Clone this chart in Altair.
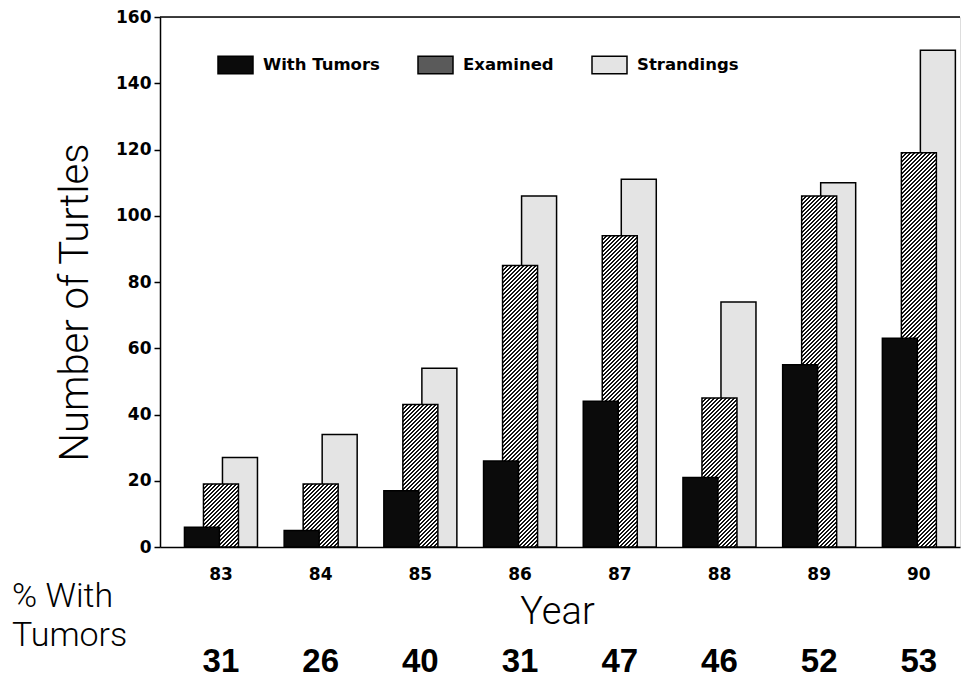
import altair as alt
import pandas as pd

# ---- data ----
years = ["83", "84", "85", "86", "87", "88", "89", "90"]
with_tumors = [6, 5, 17, 26, 44, 21, 55, 63]
examined = [19, 19, 43, 85, 94, 45, 106, 119]
strandings = [27, 34, 54, 106, 111, 74, 110, 150]
pct_with_tumors = [31, 26, 40, 31, 47, 46, 52, 53]
series = ["With Tumors", "Examined", "Strandings"]
series_colors = ["#0b0b0b", "#5a5a5a", "#e4e4e4"]
side_label = ["% With", "Tumors"]

W, H = 800, 530
Y_MAX = 160
BAR_W = 35  # pixel width of a bar (offset band is 19px, so bars overlap)

rows = []
for i, yr in enumerate(years):
    rows.append({"Year": yr, "Series": "Strandings", "Count": strandings[i]})
    rows.append({"Year": yr, "Series": "Examined", "Count": examined[i]})
    rows.append({"Year": yr, "Series": "With Tumors", "Count": with_tumors[i]})
df = pd.DataFrame(rows)
pct_df = pd.DataFrame({"Year": years, "Pct": [str(p) for p in pct_with_tumors]})

BOLD = "DejaVu Sans"
LIGHT = "Roboto"

x_enc = alt.X(
    "Year:N",
    sort=years,
    scale=alt.Scale(domain=years, paddingInner=0.428, paddingOuter=0.226, align=0.72),
    axis=alt.Axis(
        title="Year", labelAngle=0, ticks=False, labelPadding=19,
        labelFont=BOLD, labelFontWeight="bold", labelFontSize=17, labelColor="black",
        titleFont=LIGHT, titleFontWeight=300, titleFontSize=38, titleColor="black",
        titleX=397, titleY=76, titleBaseline="alphabetic",
        domainColor="black", domainWidth=1.5,
    ),
)
xoff_enc = alt.XOffset(
    "Series:N", scale=alt.Scale(domain=series, paddingInner=0, paddingOuter=0)
)
y_enc = alt.Y(
    "Count:Q",
    stack=None,
    scale=alt.Scale(domain=[0, Y_MAX], nice=False),
    axis=alt.Axis(
        title="Number of Turtles", values=list(range(0, 161, 20)), grid=False,
        tickSize=6, tickColor="black", tickWidth=1.5, labelPadding=3,
        labelFont=BOLD, labelFontWeight="bold", labelFontSize=17, labelColor="black",
        titleFont=LIGHT, titleFontWeight=300, titleFontSize=40, titleColor="black",
        titleAngle=270, titleX=-73, titleY=285, titleBaseline="alphabetic",
        domainColor="black", domainWidth=1.5,
    ),
)
color_enc = alt.Color(
    "Series:N",
    scale=alt.Scale(domain=series, range=series_colors),
    legend=alt.Legend(
        title=None, orient="none", direction="horizontal",
        legendX=57, legendY=29, symbolType="M-1,-0.5H1V0.5H-1Z", symbolSize=1225,
        symbolStrokeColor="black", symbolStrokeWidth=1.5, symbolOpacity=1,
        labelFont=BOLD, labelFontWeight="bold", labelFontSize=16.5, labelColor="black",
        labelOffset=9, columnPadding=35,
    ),
)


def hatch(value, period=4.0, dark=0.5):
    w = BAR_W
    h = max(value * H / Y_MAX, 1)
    total = w + h
    stops = []
    i = 0
    while i * period < total:
        o0 = i * period / total
        o1 = min((i + dark) * period / total, 1)
        o2 = min((i + 1) * period / total, 1)
        stops += [
            alt.GradientStop(offset=o0, color="#111111"),
            alt.GradientStop(offset=o1, color="#111111"),
            alt.GradientStop(offset=o1, color="#ffffff"),
            alt.GradientStop(offset=o2, color="#ffffff"),
        ]
        i += 1
    a = w * (w + h) / (w * w + h * h)
    b = h * (w + h) / (w * w + h * h)
    return alt.LinearGradient(gradient="linear", x1=0, y1=0, x2=a, y2=b, stops=stops)


base = alt.Chart(df)

strand_layer = base.mark_bar(
    width=BAR_W, stroke="black", strokeWidth=1.5
).encode(x=x_enc, xOffset=xoff_enc, y=y_enc, color=color_enc).transform_filter(
    alt.datum.Series == "Strandings"
)

exam_layers = []
for i, yr in enumerate(years):
    exam_layers.append(
        base.mark_bar(
            width=BAR_W, stroke="black", strokeWidth=1.5, fill=hatch(examined[i]),
        ).encode(x=x_enc, xOffset=xoff_enc, y=y_enc).transform_filter(
            (alt.datum.Series == "Examined") & (alt.datum.Year == yr)
        )
    )

tumor_layer = base.mark_bar(
    width=BAR_W, stroke="black", strokeWidth=1.5
).encode(x=x_enc, xOffset=xoff_enc, y=y_enc, color=color_enc).transform_filter(
    alt.datum.Series == "With Tumors"
)

top_rule = alt.Chart(pd.DataFrame({"a": [0]})).mark_rule(
    color="black", strokeWidth=1.5
).encode(y=alt.datum(Y_MAX))

pct_text = alt.Chart(pct_df).mark_text(
    font="Liberation Sans", fontWeight="bold", fontSize=33, color="black",
    baseline="alphabetic", align="center",
).encode(x=x_enc, y=alt.value(H + 125), text="Pct:N")

side_text = alt.Chart(pd.DataFrame({"a": [0]})).mark_text(
    text=side_label, align="left", baseline="alphabetic", font=LIGHT,
    fontWeight=300, fontSize=34, lineHeight=39, color="black",
).encode(x=alt.value(-148), y=alt.value(590))

chart = alt.layer(
    strand_layer, *exam_layers, tumor_layer, top_rule, pct_text, side_text
).properties(
    width=W, height=H, padding={"left": 4, "top": 0, "right": 0, "bottom": 0}
).configure_view(stroke=None).configure(background="white")

chart.save("out.html", embed_options={"renderer": "svg", "actions": False})
